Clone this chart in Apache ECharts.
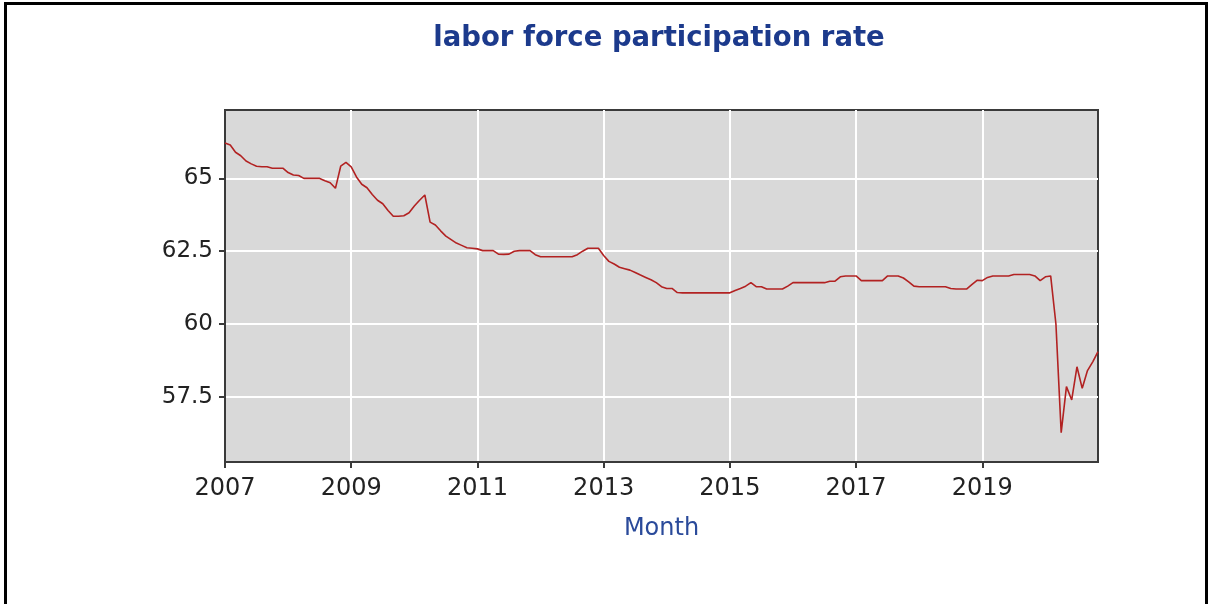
<!DOCTYPE html>
<html>
<head>
<meta charset="utf-8">
<title>labor force participation rate</title>
<script src="https://cdn.jsdelivr.net/npm/echarts@6/dist/echarts.min.js"></script>
<style>
  body { margin: 0; background: #fff; }
  #chart { position: absolute; left: 0; top: 0; width: 1208px; height: 604px; }
  #frame { position: absolute; left: 4px; top: 2px; width: 1198px; height: 700px;
           border: 3px solid #000; pointer-events: none; }
</style>
</head>
<body>
<div id="chart"></div>
<div id="frame"></div>
<script>
// monthly values, Jan 2007 .. Nov 2020
var startYear = 2007;
var rate = [
  66.22, 66.15, 65.9, 65.78, 65.6, 65.5, 65.42, 65.4, 65.4, 65.35, 65.35, 65.35,
  65.2, 65.12, 65.1, 65.0, 65.0, 65.0, 65.0, 64.92, 64.85, 64.66, 65.42, 65.55,
  65.4, 65.05, 64.8, 64.68, 64.45, 64.25, 64.13, 63.9, 63.7, 63.7, 63.72, 63.82,
  64.05, 64.25, 64.43, 63.5, 63.4, 63.2, 63.02, 62.9, 62.78, 62.7, 62.62, 62.6,
  62.58, 62.52, 62.52, 62.52, 62.4, 62.39, 62.4, 62.5, 62.52, 62.52, 62.52, 62.38,
  62.31, 62.31, 62.31, 62.31, 62.31, 62.31, 62.31, 62.38, 62.5, 62.6, 62.6, 62.6,
  62.35, 62.15, 62.06, 61.95, 61.9, 61.85, 61.77, 61.68, 61.6, 61.52, 61.42, 61.28,
  61.22, 61.22, 61.08, 61.07, 61.07, 61.07, 61.07, 61.07, 61.07, 61.07, 61.07, 61.07,
  61.07, 61.15, 61.22, 61.3, 61.42, 61.28, 61.28, 61.2, 61.2, 61.2, 61.2, 61.3,
  61.42, 61.42, 61.42, 61.42, 61.42, 61.42, 61.42, 61.47, 61.47, 61.62, 61.65, 61.65,
  61.65, 61.49, 61.49, 61.49, 61.49, 61.49, 61.65, 61.65, 61.65, 61.58, 61.45, 61.3,
  61.28, 61.28, 61.28, 61.28, 61.28, 61.28, 61.22, 61.2, 61.2, 61.2, 61.35, 61.5,
  61.49, 61.6, 61.65, 61.65, 61.65, 61.65, 61.7, 61.7, 61.7, 61.7, 61.65, 61.49,
  61.62, 61.65, 60.0, 56.27, 57.85, 57.39, 58.53, 57.79, 58.4, 58.7, 59.05
];
var yTicks = [57.5, 60, 62.5, 65];

var months = [];
for (var i = 0; i < rate.length; i++) {
  var y = startYear + Math.floor(i / 12);
  var m = i % 12 + 1;
  months.push(y + '-' + (m < 10 ? '0' + m : m));
}

var chart = echarts.init(document.getElementById('chart'));
var option = {
  animation: false,
  title: {
    text: 'labor force participation rate',
    left: 654,
    top: 20,
    textAlign: 'center',
    textStyle: {
      fontFamily: 'DejaVu Sans',
      fontWeight: 'bold',
      fontSize: 27.5,
      color: '#1c3a8c'
    }
  },
  grid: {
    left: 225,
    right: 110,
    top: 110,
    bottom: 142,
    show: true,
    backgroundColor: '#d9d9d9',
    borderColor: '#3a3a3a',
    borderWidth: 2
  },
  xAxis: {
    type: 'category',
    data: months,
    boundaryGap: false,
    name: 'Month',
    nameLocation: 'middle',
    nameGap: 55,
    nameTextStyle: { fontFamily: 'DejaVu Sans', fontSize: 24, color: '#2a4a9a' },
    axisLine: { lineStyle: { color: '#3a3a3a', width: 2 } },
    axisTick: { interval: 23, length: 6, lineStyle: { color: '#3a3a3a', width: 2 } },
    axisLabel: {
      interval: 23,
      margin: 15,
      fontFamily: 'DejaVu Sans',
      fontSize: 24,
      color: '#222',
      formatter: function (v) { return v.slice(0, 4); }
    },
    splitLine: { show: true, interval: 23, lineStyle: { color: '#fff', width: 2 } }
  },
  yAxis: {
    type: 'value',
    min: 55.26,
    max: 67.35,
    axisLine: { show: true, lineStyle: { color: '#3a3a3a', width: 2 } },
    axisTick: { show: true, customValues: yTicks, length: 6, lineStyle: { color: '#3a3a3a', width: 2 } },
    axisLabel: {
      customValues: yTicks,
      margin: 12,
      fontFamily: 'DejaVu Sans',
      fontSize: 23,
      color: '#222'
    },
    splitLine: { show: true, lineStyle: { color: '#fff', width: 2 } }
  },
  series: [
    {
      name: 'rate',
      type: 'line',
      data: rate,
      showSymbol: false,
      lineStyle: { color: '#b22222', width: 1.6 }
    }
  ]
};
chart.setOption(option);
</script>
</body>
</html>
